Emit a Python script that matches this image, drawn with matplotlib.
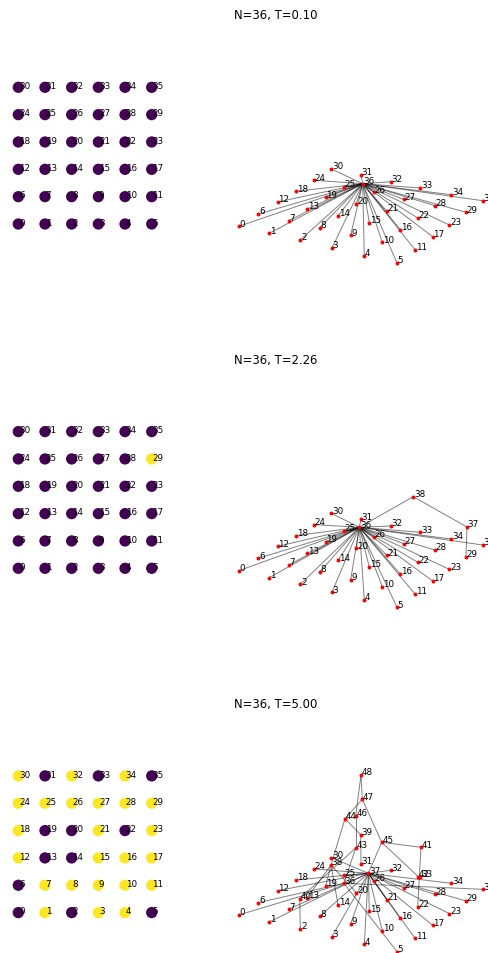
import numpy as np
import matplotlib.pyplot as plt
from matplotlib.collections import LineCollection

W, H = 488, 954
ROW_STEP = 344.3

temps = [0.10, 2.26, 5.00]
n_sites = 36

# spin of each lattice site, numbered row by row from the bottom left
spins_t010 = [0, 0, 0, 0, 0, 0,
              0, 0, 0, 0, 0, 0,
              0, 0, 0, 0, 0, 0,
              0, 0, 0, 0, 0, 0,
              0, 0, 0, 0, 0, 0,
              0, 0, 0, 0, 0, 0]
spins_t226 = [0, 0, 0, 0, 0, 0,
              0, 0, 0, 0, 0, 0,
              0, 0, 0, 0, 0, 0,
              0, 0, 0, 0, 0, 0,
              0, 0, 0, 0, 0, 1,
              0, 0, 0, 0, 0, 0]
spins_t500 = [0, 1, 0, 1, 1, 0,
              0, 1, 1, 1, 1, 1,
              1, 0, 0, 1, 1, 1,
              1, 0, 0, 1, 0, 1,
              1, 1, 1, 1, 1, 1,
              1, 0, 1, 0, 1, 0]

# layout of the lattice sites in the cluster graph
site_x = [0.0, 30.3, 61.3, 93.0, 125.3, 158.0,
          19.3, 49.7, 80.7, 111.7, 143.3, 176.0,
          38.7, 68.3, 99.0, 130.3, 161.3, 193.7,
          57.0, 86.7, 117.3, 147.7, 178.7, 210.3,
          75.0, 105.0, 134.7, 164.7, 196.0, 227.0,
          92.3, 122.0, 151.7, 181.3, 212.3, 243.7]
site_y = [0.0, -7.0, -13.7, -21.7, -29.4, -36.7,
          12.3, 5.6, -1.4, -9.0, -16.0, -23.4,
          24.3, 17.3, 10.3, 3.6, -3.4, -10.4,
          35.0, 29.0, 22.3, 15.3, 8.3, 1.3,
          46.0, 39.6, 34.0, 27.0, 20.6, 14.0,
          57.3, 51.3, 44.6, 38.3, 31.6, 25.6]

# cluster nodes (36, 37, ...) for each temperature
hub_x_t010 = [123.7]
hub_y_t010 = [42.6]
hub_x_t226 = [120.3, 228.0, 174.3]
hub_y_t226 = [43.3, 43.6, 73.9]
hub_x_t500 = [105.0, 129.3, 92.0, 121.7, 60.7, 182.0, 179.3,
              116.7, 106.0, 142.7, 116.7, 123.3, 122.0]
hub_y_t500 = [31.6, 41.6, 49.9, 80.2, 16.2, 67.6, 38.2,
              66.9, 96.2, 72.6, 98.9, 115.6, 139.9]

# parent of every node in the cluster tree (-1 = root)
parent_t010 = [36] * 36 + [-1]
parent_t226 = [36] * 29 + [37] + [36] * 6 + [38, 38, -1]
parent_t500 = [36, 37, 40, 37, 37, 36,
               36, 37, 37, 37, 37, 37,
               37, 38, 38, 37, 37, 37,
               37, 38, 38, 37, 41, 37,
               37, 37, 37, 37, 37, 37,
               37, 39, 37, 42, 37, 36,
               43, 45, 44, 44, 43, 45, 45, 46, 47, 47, 48, 48, -1]

runs = [
    (spins_t010, hub_x_t010, hub_y_t010, parent_t010),
    (spins_t226, hub_x_t226, hub_y_t226, parent_t226),
    (spins_t500, hub_x_t500, hub_y_t500, parent_t500),
]

fig = plt.figure(figsize=(W / 100, H / 100), dpi=100)
cmap = plt.get_cmap('viridis')


def px_axes(x0, y0, x1, y1):
    return fig.add_axes([x0 / W, 1 - y1 / H, (x1 - x0) / W, (y1 - y0) / H])


def draw_lattice(ax, spins, dy):
    # pixel spacing of the lattice
    sx, sy = 26.68, 27.34
    col = np.arange(n_sites) % 6
    row = np.arange(n_sites) // 6
    ax.scatter(col, row, s=66, c=cmap(np.array(spins, dtype=float)), zorder=2,
               linewidths=0)
    for i in range(n_sites):
        ax.text(col[i] + 0.6 / sx, row[i] - 0.8 / sy, str(i), fontsize=6.3,
                ha='left', va='baseline', zorder=3)
    ax.set_xlim(-18.3 / sx, (175 - 18.3) / sx)
    ax.set_ylim((225 - 245) / sy, (225 - 70) / sy)
    ax.axis('off')


def draw_tree(ax, hx, hy, parent):
    xs = np.array(site_x + hx)
    ys = np.array(site_y + hy)
    segs = [[(xs[i], ys[i]), (xs[p], ys[p])] for i, p in enumerate(parent) if p >= 0]
    ax.add_collection(LineCollection(segs, colors='k', alpha=0.5, linewidths=0.7,
                                     zorder=1))
    ax.scatter(xs, ys, s=8, c='red', linewidths=0, zorder=2)
    for i in range(len(xs)):
        ax.text(xs[i] + 0.6, ys[i] + 0.6, str(i), fontsize=6.3, ha='left',
                va='baseline', zorder=3, clip_on=True)
    ax.set_xlim(232 - 239, 488 - 239)
    ax.set_ylim(227.3 - 290, 227.3 - 75)
    ax.axis('off')


for k, (spins, hx, hy, parent) in enumerate(runs):
    dy = k * ROW_STEP
    ax_l = px_axes(0, 70 + dy, 175, 245 + dy)
    draw_lattice(ax_l, spins, dy)
    ax_r = px_axes(232, 75 + dy, 488, 290 + dy)
    draw_tree(ax_r, hx, hy, parent)
    fig.text(275.8 / W, 1 - (19.3 + dy) / H, 'N=%d, T=%.2f' % (n_sites, temps[k]),
             fontsize=8.4, ha='center', va='baseline')

fig.savefig('out.png', dpi=100)
